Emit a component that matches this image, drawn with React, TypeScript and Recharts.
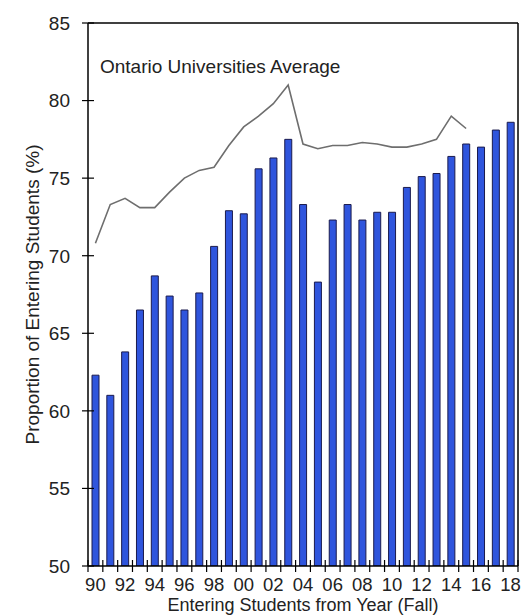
import React from 'react';
import { ComposedChart, Bar, Line, XAxis, YAxis, Label } from 'recharts';

const years = [
  '90', '91', '92', '93', '94', '95', '96', '97', '98', '99',
  '00', '01', '02', '03', '04', '05', '06', '07', '08', '09',
  '10', '11', '12', '13', '14', '15', '16', '17', '18',
];

const entering = [
  62.3, 61.0, 63.8, 66.5, 68.7, 67.4, 66.5, 67.6, 70.6, 72.9,
  72.7, 75.6, 76.3, 77.5, 73.3, 68.3, 72.3, 73.3, 72.3, 72.8,
  72.8, 74.4, 75.1, 75.3, 76.4, 77.2, 77.0, 78.1, 78.6,
];

const ontarioAvg = [
  70.8, 73.3, 73.7, 73.1, 73.1, 74.1, 75.0, 75.5, 75.7, 77.1,
  78.3, 79.0, 79.8, 81.0, 77.2, 76.9, 77.1, 77.1, 77.3, 77.2,
  77.0, 77.0, 77.2, 77.5, 79.0, 78.2, null, null, null,
];

const yTicks = [50, 55, 60, 65, 70, 75, 80, 85];

const data = years.map((year, i) => ({
  year,
  entering: entering[i],
  ontario: ontarioAvg[i],
}));

const W = 523;
const H = 615;
const LEFT = 88;
const RIGHT = 4;
const TOP = 22;
const X_AXIS_H = 49;
const BAND = (W - LEFT - RIGHT - 1) / years.length;
const FONT = '"Liberation Sans", Arial, sans-serif';

const XTick = (props: any) => {
  const { x, y, index, payload } = props;
  const left = x - BAND / 2;
  const right = x + BAND / 2;
  return (
    <g>
      <line x1={left} x2={left} y1={y - 6} y2={y + 6} stroke="#000" strokeWidth={1.2} />
      {index === years.length - 1 && (
        <line x1={right} x2={right} y1={y - 6} y2={y + 6} stroke="#000" strokeWidth={1.2} />
      )}
      {index % 2 === 0 && (
        <text x={x} y={y + 25} textAnchor="middle" fontSize={18.5} fill="#222" fontFamily={FONT}>
          {payload.value}
        </text>
      )}
    </g>
  );
};

const YTick = (props: any) => {
  const { x, y, payload } = props;
  return (
    <g>
      <line x1={x - 6} x2={x + 6} y1={y} y2={y} stroke="#000" strokeWidth={1.2} />
      <text x={x - 18} y={y} dy="0.36em" textAnchor="end" fontSize={19} fill="#222" fontFamily={FONT}>
        {payload.value}
      </text>
    </g>
  );
};

const App: React.FC = () => {
  return (
    <div style={{ position: 'absolute', left: 0, top: 0, width: W, height: H, background: '#fff' }}>
      <ComposedChart
        width={W}
        height={H}
        data={data}
        margin={{ top: TOP, right: RIGHT, bottom: 0, left: 0 }}
        barCategoryGap={0}
      >
        <XAxis
          dataKey="year"
          height={X_AXIS_H}
          interval={0}
          tickLine={false}
          tickSize={0}
          tickMargin={0}
          tick={<XTick />}
          axisLine={{ stroke: '#000', strokeWidth: 1.5 }}
        >
          <Label
            value="Entering Students from Year (Fall)"
            position="insideBottom"
            offset={4}
            style={{ fontSize: 18, fill: '#222', fontFamily: FONT }}
          />
        </XAxis>
        <XAxis
          xAxisId="top"
          dataKey="year"
          orientation="top"
          height={1}
          tick={false}
          tickLine={false}
          axisLine={{ stroke: '#000', strokeWidth: 1.5 }}
        />
        <YAxis
          domain={[50, 85]}
          ticks={yTicks}
          width={LEFT}
          interval={0}
          allowDataOverflow
          tickLine={false}
          tickSize={0}
          tickMargin={0}
          tick={<YTick />}
          axisLine={{ stroke: '#000', strokeWidth: 1.5 }}
        >
          <Label
            value="Proportion of Entering Students (%)"
            angle={-90}
            position="insideLeft"
            offset={32}
            style={{ fontSize: 19, fill: '#222', fontFamily: FONT, textAnchor: 'middle' }}
          />
        </YAxis>
        <YAxis
          yAxisId="right"
          orientation="right"
          domain={[50, 85]}
          width={1}
          tick={false}
          tickLine={false}
          axisLine={{ stroke: '#000', strokeWidth: 1.5 }}
        />
        <Bar
          dataKey="entering"
          barSize={7}
          fill="#2f55dd"
          stroke="#1b1b4d"
          strokeWidth={1}
          isAnimationActive={false}
        />
        <Line
          dataKey="ontario"
          type="linear"
          stroke="#6e6e6e"
          strokeWidth={1.6}
          dot={false}
          activeDot={false}
          connectNulls={false}
          isAnimationActive={false}
        />
        <Line
          xAxisId="top"
          yAxisId="right"
          dataKey="ontario"
          stroke="none"
          dot={false}
          activeDot={false}
          legendType="none"
          isAnimationActive={false}
        />
      </ComposedChart>
      <div
        style={{
          position: 'absolute',
          left: 100,
          top: 57,
          fontSize: 19,
          lineHeight: '19px',
          color: '#222',
          fontFamily: FONT,
          whiteSpace: 'nowrap',
        }}
      >
        Ontario Universities Average
      </div>
    </div>
  );
};

export default App;
